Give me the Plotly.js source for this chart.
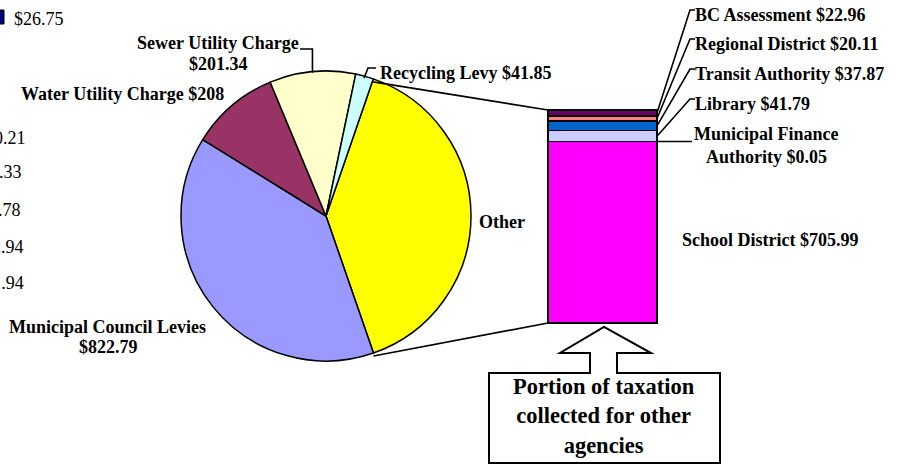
<!DOCTYPE html>
<html><head><meta charset="utf-8">
<script src="https://cdn.plot.ly/plotly-3.0.1.min.js"></script>
<style>html,body{margin:0;padding:0;background:#fff}</style>
</head><body><div id="chart" style="width:901px;height:464px"></div>
<script>
// ---------------- DATA ----------------
const pieLabels = ['Other', 'Municipal Council Levies', 'Water Utility Charge', 'Sewer Utility Charge', 'Recycling Levy'];
const pieValues = [822.79, 208, 201.34, 41.85]; // values for slices after "Other"
const pieColors = ['#FFFF00', '#9999FF', '#993366', '#FFFFCC', '#CCFFFF'];

const barLabels = ['School District', 'Municipal Finance Authority', 'Library', 'Transit Authority', 'Regional District', 'BC Assessment'];
const barValues = [705.99, 0.05, 41.79, 37.87, 20.11, 22.96];
const barColors = ['#FF00FF', '#000080', '#CCCCFF', '#0066CC', '#FF8080', '#660066'];

const clippedLegendValue = '$26.75';
const clippedLegendTexts = ['$10.21', '$2.33', '$6.78', '$12.94', '$11.94'];
const boxText = 'Portion of taxation<br>collected for other<br>agencies';

// ---------------- GEOMETRY ----------------
const W = 901, H = 464;
const px = x => x / W, py = y => 1 - y / H;
const FONT = 'Liberation Serif, Times New Roman, serif';
const LS = 18; // label font size
const pieC = {x: 326, y: 216}, pieR = 145;
const barBox = {x0: 548, x1: 657, top: 110, bottom: 323};
const rot = 19;

const otherTotal = barValues.reduce((a, b) => a + b, 0);
const pieVals = [otherTotal].concat(pieValues);
const pieTotal = pieVals.reduce((a, b) => a + b, 0);
const fmt = v => '$' + String(v);

// slice angles (deg clockwise from 12 o'clock)
const sliceAng = [];
let acc = rot;
pieVals.forEach(v => { const a0 = acc, a1 = acc + v / pieTotal * 360; sliceAng.push({a0, a1, mid: (a0 + a1) / 2}); acc = a1; });
const piePt = (deg, r) => ({x: pieC.x + r * Math.sin(deg * Math.PI / 180), y: pieC.y - r * Math.cos(deg * Math.PI / 180)});

// bar segment midpoints (pixels)
const scale = (barBox.bottom - barBox.top) / otherTotal;
const segMid = [];
let cum = 0;
barValues.forEach(v => { segMid.push(barBox.bottom - (cum + v / 2) * scale); cum += v; });

const pathOf = pts => pts.map((p, i) => (i ? 'L' : 'M') + px(p[0]).toFixed(5) + ',' + py(p[1]).toFixed(5)).join(' ');
const line = (pts, w) => ({type: 'path', xref: 'paper', yref: 'paper', path: pathOf(pts), line: {color: '#000', width: w || 1.6}});

// ---------------- TRACES ----------------
const traces = [{
  type: 'pie', labels: pieLabels, values: pieVals, sort: false, direction: 'clockwise', rotation: rot,
  marker: {colors: pieColors, line: {color: '#000', width: 1.5}},
  textinfo: 'none', hoverinfo: 'none', showlegend: false,
  domain: {x: [px(pieC.x - pieR), px(pieC.x + pieR)], y: [py(pieC.y + pieR), py(pieC.y - pieR)]}
}];
barValues.forEach((v, i) => traces.push({
  type: 'bar', x: ['Other'], y: [v], name: barLabels[i], width: 1,
  marker: {color: barColors[i], line: {color: '#000', width: 1.3}},
  hoverinfo: 'none', showlegend: false
}));

// ---------------- ANNOTATIONS ----------------
const ann = [];
const lab = (text, x, y, anchor, size, bold) => ann.push({
  xref: 'paper', yref: 'paper', x: px(x), y: py(y), xanchor: anchor || 'center', yanchor: 'middle',
  text: bold === false ? text : '<b>' + text + '</b>', showarrow: false,
  font: {family: FONT, size: size || LS, color: '#000'}
});
lab(pieLabels[3], 218, 43);
lab(fmt(pieValues[2]), 218, 64);
lab(pieLabels[2] + ' ' + fmt(pieValues[1]), 122, 94);
lab(pieLabels[1], 107, 327);
lab(fmt(pieValues[0]), 108, 347);
lab(pieLabels[4] + ' ' + fmt(pieValues[3]), 378, 73, 'left');
lab(pieLabels[0], 502, 222);
lab(barLabels[5] + ' ' + fmt(barValues[5]), 693, 15, 'left');
lab(barLabels[4] + ' ' + fmt(barValues[4]), 693, 44, 'left');
lab(barLabels[3] + ' ' + fmt(barValues[3]), 693, 74, 'left');
lab(barLabels[2] + ' ' + fmt(barValues[2]), 693, 104, 'left');
lab('Municipal Finance', 766, 134);
lab('Authority ' + fmt(barValues[1]), 766, 157);
lab(barLabels[0] + ' ' + fmt(barValues[0]), 770, 240);
lab(boxText, 604, 416, 'center', 22.5);
// clipped legend remnants on the left edge (cut off in the original too)
lab(clippedLegendValue, 12, 19, 'left', 18, false);
const clipEnds = [[28, 138], [24, 172], [23, 210], [26, 247], [26, 283]];
clippedLegendTexts.forEach((t, i) => lab(t, clipEnds[i][0], clipEnds[i][1], 'right', 18, false));

// ---------------- SHAPES ----------------
const shapes = [];
// connectors pie -> bar
const pTop = piePt(sliceAng[0].a0, pieR), pBot = piePt(sliceAng[0].a1, pieR);
shapes.push(line([[pTop.x, pTop.y + 3], [barBox.x0, barBox.top]]));
shapes.push(line([[pBot.x, pBot.y + 3], [barBox.x0, barBox.bottom]]));
// pie leaders
const sw = piePt(sliceAng[3].mid, pieR - 1);
shapes.push(line([[300, 49], [sw.x, 49], [sw.x, sw.y]]));
const rc = piePt(sliceAng[4].mid, pieR - 2);
shapes.push(line([[376, 68], [368, 68], [rc.x, rc.y]]));
// bar leaders
[[5, 10], [4, 39], [3, 69], [2, 99]].forEach(([i, y]) => shapes.push(line([[695, y], [690, y], [barBox.x1, segMid[i]]])));
shapes.push(line([[692, segMid[1]], [barBox.x1, segMid[1]]]));
// bar outline
shapes.push({type: 'rect', xref: 'paper', yref: 'paper', x0: px(barBox.x0), x1: px(barBox.x1), y0: py(barBox.bottom), y1: py(barBox.top), line: {color: '#000', width: 2}});
// callout box with arrow
shapes.push({type: 'path', xref: 'paper', yref: 'paper', layer: 'below',
  path: pathOf([[617, 373], [720, 373], [720, 463], [489, 463], [489, 373], [590, 373], [590, 353], [560, 353], [604, 327], [651, 353], [617, 353]]) + ' Z',
  fillcolor: '#fff', line: {color: '#000', width: 2}});
// clipped legend swatch
shapes.push({type: 'rect', xref: 'paper', yref: 'paper', x0: px(-6), x1: px(4), y0: py(24), y1: py(10), fillcolor: '#000080', line: {color: '#000', width: 1}});

const layout = {
  width: W, height: H, margin: {l: 0, r: 0, t: 0, b: 0},
  paper_bgcolor: '#fff', plot_bgcolor: 'rgba(0,0,0,0)',
  showlegend: false, barmode: 'stack', bargap: 0,
  xaxis: {domain: [px(barBox.x0), px(barBox.x1)], type: 'category', range: [-0.5, 0.5], visible: false, fixedrange: true},
  yaxis: {domain: [py(barBox.bottom), py(barBox.top)], range: [0, otherTotal], visible: false, fixedrange: true},
  annotations: ann, shapes: shapes
};
Plotly.newPlot('chart', traces, layout, {staticPlot: true, displayModeBar: false});
</script></body></html>
